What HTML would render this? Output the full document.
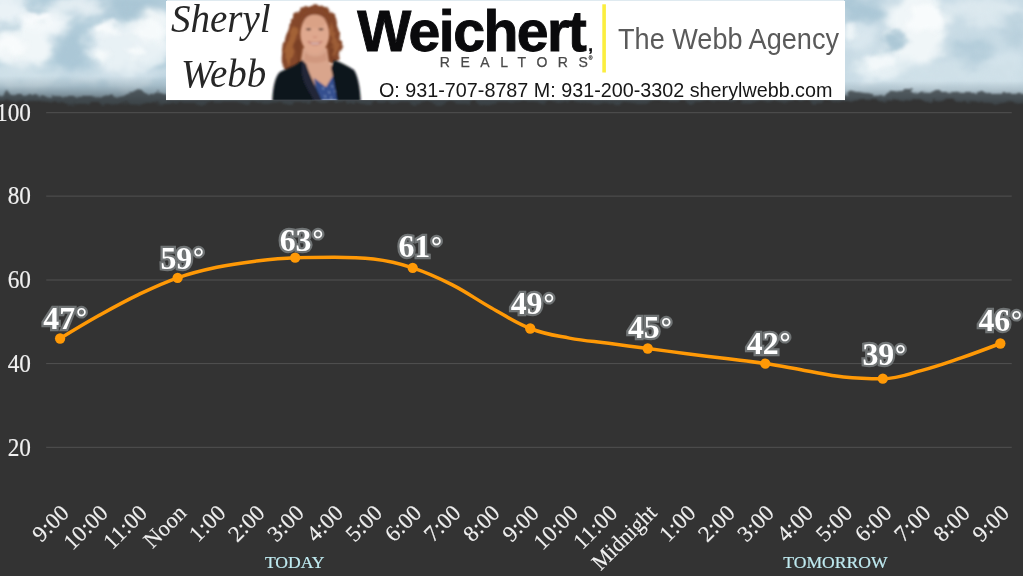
<!DOCTYPE html>
<html lang="en">
<head>
<meta charset="utf-8">
<title>Hourly Temperature Forecast</title>
<style>
html,body{margin:0;padding:0;background:#333333;overflow:hidden;}
body{width:1023px;height:576px;position:relative;font-family:"Liberation Serif",serif;}
svg{display:block;position:absolute;left:0;top:0;}
.ylab{font-family:"Liberation Serif",serif;font-size:23.3px;fill:#f0f0f0;stroke:#f0f0f0;stroke-width:0.15px;}
.xlab{font-family:"Liberation Serif",serif;font-size:22.7px;letter-spacing:0.15px;fill:#f0f0f0;stroke:#f0f0f0;stroke-width:0.15px;}
.day{font-family:"Liberation Serif",serif;font-size:17.6px;fill:#bfeaf0;letter-spacing:0px;stroke:#bfeaf0;stroke-width:0.2px;}
.dl{font-family:"Liberation Serif",serif;font-weight:bold;font-size:30.6px;fill:#ffffff;stroke:#707475;stroke-width:4.4px;letter-spacing:0px;paint-order:stroke fill;stroke-linejoin:miter;stroke-miterlimit:2;}
.deg{font-size:26.5px;}
.wei{font-family:"Liberation Sans",sans-serif;font-weight:bold;font-size:57.2px;fill:#0a0a0c;stroke:#0a0a0c;stroke-width:0.9px;letter-spacing:-1.55px;}
.rea{font-family:"Liberation Sans",sans-serif;font-size:14px;fill:#484848;stroke:#484848;stroke-width:0.25px;letter-spacing:10.55px;}
.reg{font-size:5px;letter-spacing:0;}
.com{font-size:17px;letter-spacing:0;stroke-width:0.3px;}
.agency{font-family:"Liberation Sans",sans-serif;font-size:30px;fill:#5a5a5a;}
.phone{font-family:"Liberation Sans",sans-serif;font-size:19.75px;fill:#161616;}
.script{font-family:"Liberation Serif",serif;font-style:italic;font-size:39px;fill:#262626;}
</style>
</head>
<body>
<svg width="1023" height="576" viewBox="0 0 1023 576">
<rect x="0" y="0" width="1023" height="576" fill="#333333"/>
<defs>
<filter id="cl" x="-30%" y="-60%" width="160%" height="220%" color-interpolation-filters="sRGB">
<feGaussianBlur in="SourceGraphic" stdDeviation="5" result="bl"/>
<feTurbulence type="fractalNoise" baseFrequency="0.035 0.05" numOctaves="3" seed="7" result="n"/>
<feDisplacementMap in="bl" in2="n" scale="22" xChannelSelector="R" yChannelSelector="G" result="d"/>
<feGaussianBlur in="d" stdDeviation="1.2"/>
</filter>
<filter id="cs" x="-30%" y="-60%" width="160%" height="220%" color-interpolation-filters="sRGB">
<feGaussianBlur in="SourceGraphic" stdDeviation="2.5" result="bl"/>
<feTurbulence type="fractalNoise" baseFrequency="0.06 0.08" numOctaves="3" seed="3" result="n"/>
<feDisplacementMap in="bl" in2="n" scale="14" xChannelSelector="R" yChannelSelector="G" result="d"/>
<feGaussianBlur in="d" stdDeviation="0.8"/>
</filter>
<filter id="tr" x="-5%" y="-80%" width="110%" height="260%" color-interpolation-filters="sRGB">
<feTurbulence type="fractalNoise" baseFrequency="0.09 0.12" numOctaves="3" seed="11" result="n"/>
<feDisplacementMap in="SourceGraphic" in2="n" scale="10" xChannelSelector="R" yChannelSelector="G" result="d"/>
<feGaussianBlur in="d" stdDeviation="1"/>
</filter>
<linearGradient id="haze" x1="0" y1="0" x2="0" y2="1">
<stop offset="0" stop-color="#80929c" stop-opacity="0"/>
<stop offset="0.3" stop-color="#7b8d97" stop-opacity="0.3"/>
<stop offset="0.55" stop-color="#64737c" stop-opacity="0.6"/>
<stop offset="0.78" stop-color="#495257" stop-opacity="0.88"/>
<stop offset="1" stop-color="#333333" stop-opacity="1"/>
</linearGradient>
<clipPath id="skyL"><rect x="0" y="0" width="167" height="112"/></clipPath>
<clipPath id="skyR"><rect x="844" y="0" width="179" height="112"/></clipPath>
</defs>
<clipPath id="skyall"><rect x="0" y="0" width="1023" height="112"/></clipPath>
<g id="sky" clip-path="url(#skyall)">
<rect x="0" y="0" width="1023" height="100" fill="#dfeaf0"/>
<g clip-path="url(#skyL)">
<rect x="0" y="0" width="167" height="104" fill="#b1ccda"/>
<g filter="url(#cl)">
<ellipse cx="4" cy="8" rx="26" ry="16" fill="#eaf2f6"/>
<ellipse cx="20" cy="46" rx="34" ry="20" fill="#f0f6f8"/>
<ellipse cx="46" cy="24" rx="26" ry="11" fill="#f3f8fa"/>
<ellipse cx="82" cy="6" rx="30" ry="11" fill="#e3edf2"/>
<ellipse cx="128" cy="46" rx="42" ry="26" fill="#e8f1f5"/>
<ellipse cx="152" cy="26" rx="22" ry="14" fill="#f0f6f8"/>
<ellipse cx="20" cy="76" rx="44" ry="10" fill="#cfe0e8"/>
<ellipse cx="118" cy="78" rx="60" ry="9" fill="#cddee7"/>
<ellipse cx="130" cy="8" rx="28" ry="9" fill="#a9c5d4"/>
<ellipse cx="72" cy="52" rx="15" ry="22" fill="#abc7d6"/>
</g>
<g filter="url(#cs)">
<ellipse cx="106" cy="30" rx="12" ry="6" fill="#f8fbfc"/>
<ellipse cx="150" cy="30" rx="13" ry="10" fill="#f6fafb"/>
<ellipse cx="100" cy="55" rx="9" ry="5" fill="#f6fafb"/>
<ellipse cx="134" cy="52" rx="9" ry="6" fill="#f6fafb"/>
<ellipse cx="38" cy="19" rx="16" ry="5" fill="#fafcfd"/>
<ellipse cx="12" cy="46" rx="16" ry="8" fill="#f8fbfc"/>
<ellipse cx="34" cy="10" rx="9" ry="4" fill="#b9d0dc"/>
<ellipse cx="10" cy="28" rx="11" ry="4" fill="#c4d8e2"/>
</g>
</g>
<g clip-path="url(#skyR)">
<rect x="844" y="0" width="179" height="104" fill="#c8dbe5"/>
<g filter="url(#cl)">
<ellipse cx="862" cy="10" rx="22" ry="13" fill="#abc7d6"/>
<ellipse cx="916" cy="28" rx="30" ry="38" fill="#f0f6f8"/>
<ellipse cx="886" cy="68" rx="32" ry="14" fill="#e6f0f4"/>
<ellipse cx="858" cy="38" rx="16" ry="12" fill="#d9e7ee"/>
<ellipse cx="980" cy="10" rx="44" ry="12" fill="#dbe8ee"/>
<ellipse cx="972" cy="52" rx="18" ry="11" fill="#b4cdda"/>
<ellipse cx="1005" cy="62" rx="18" ry="10" fill="#d3e3eb"/>
<ellipse cx="1016" cy="32" rx="12" ry="12" fill="#b9d0dc"/>
<ellipse cx="960" cy="76" rx="70" ry="12" fill="#cfe0e8"/>
</g>
<g filter="url(#cs)">
<ellipse cx="894" cy="41" rx="11" ry="10" fill="#adc8d6"/>
<ellipse cx="926" cy="18" rx="18" ry="15" fill="#f8fbfc"/>
<ellipse cx="850" cy="32" rx="6" ry="10" fill="#edf4f7"/>
<ellipse cx="880" cy="62" rx="14" ry="7" fill="#f3f8fa"/>
</g>
</g>
<rect x="0" y="76" width="600" height="32" fill="url(#haze)"/>
<rect x="600" y="81" width="423" height="27" fill="url(#haze)"/>
<rect x="0" y="107.5" width="1023" height="6" fill="#333333"/>
<g filter="url(#tr)" opacity="0.8">
<path fill="#3b4246" d="M-10 125 L-10 95 L10 93 L30 95 L50 96 L70 97 L90 97 L108 96 L122 95 L131 93 L137 91 L143 92 L149 95 L155 93 L161 95 L170 96 L400 96 L700 96 L845 93 L858 92 L872 94 L888 93 L900 91 L912 91 L928 92 L946 92 L962 93 L982 93 L1002 94 L1035 94 L1035 125 Z"/>
</g>
<g filter="url(#tr)">
<path fill="#333333" d="M-10 125 L-10 102 L20 101 L50 103 L80 104 L110 104 L130 103 L150 102 L170 103 L500 103 L845 101 L870 100 L900 101 L930 100 L960 101 L990 102 L1035 103 L1035 125 Z"/>
</g>
</g>
<defs><filter id="hairf" x="-20%" y="-10%" width="140%" height="120%" color-interpolation-filters="sRGB"><feTurbulence type="fractalNoise" baseFrequency="0.16 0.12" numOctaves="2" seed="5" result="n"/><feDisplacementMap in="SourceGraphic" in2="n" scale="6" xChannelSelector="R" yChannelSelector="G" result="d"/><feGaussianBlur in="d" stdDeviation="0.8"/></filter><filter id="b1p" x="-10%" y="-10%" width="120%" height="120%"><feGaussianBlur stdDeviation="0.9"/></filter><clipPath id="bclip"><rect x="166" y="0.7" width="679" height="99.6"/></clipPath></defs>
<g id="banner" clip-path="url(#bclip)">
<rect x="166" y="1" width="679" height="99.3" fill="#ffffff"/>
<text class="script" x="171" y="32">Sheryl</text>
<text class="script" x="181" y="87">Webb</text>
<!--PHOTO-START-->
<g id="photo">
<g filter="url(#hairf)">
<path fill="#84472a" d="M314 4.5 C326 4 334 11 336.5 23 C338 31 342 40 341.5 49 C341 56 337 61 333 63 L322 65 L302 67 C298 71 292 73 287 72 C282.5 67 280.5 60 282.5 52 C283.5 44 286 36 289 27 C291 14 300 5 314 4.5 Z"/>
<path fill="#b8753f" opacity="0.6" d="M293 26 C290 34 288 40 286 48 C285 54 285 60 287 66 C290 64 292 58 293 52 C294 44 296 36 299 28 Z"/>
<path fill="#b27040" opacity="0.55" d="M331 22 C335 30 338 40 338.5 50 C337 56 334 58 332 54 C332 46 331 38 329 30 Z"/>
<path fill="#6f3a20" opacity="0.5" d="M297 40 C295 48 295 56 297 64 L301 62 C300 54 300 46 301 40 Z M329 44 C330 50 330 56 329 60 L333 60 C334 54 333 48 332 44 Z"/>
</g>
<g filter="url(#b1p)">
<path fill="#d9a58c" d="M303 48 L327 48 L329 62 L336 68 L336 100 L306 100 L300 66 Z"/>
<path fill="#c98f76" opacity="0.6" d="M305 52 C310 58 320 58 326 52 L327 60 C320 64 310 64 304 60 Z"/>
<ellipse cx="314.8" cy="34" rx="14.4" ry="19.8" fill="#dfa88e"/>
<ellipse cx="314.8" cy="21" rx="11" ry="7" fill="#d69d80" opacity="0.55"/>
<path fill="#84472a" d="M300.5 25 C301 14 308 8.5 315 8.5 C323 8.5 329 15 330 25 C327 18.5 321 14.5 314.5 14.5 C308 14.5 304 18.5 300.5 25 Z"/>
<ellipse cx="308.6" cy="29.3" rx="2.7" ry="1.1" fill="#5f4036"/>
<ellipse cx="321" cy="29.3" rx="2.7" ry="1.1" fill="#5f4036"/>
<path fill="#c47a6c" opacity="0.7" d="M313 35 C314 37.5 316 37.5 317 35 L316.4 38 L313.6 38 Z"/>
<path fill="#f5ebe4" stroke="#b4645a" stroke-width="0.9" d="M308 41.3 C312 43.3 318 43.3 322 41.3 C319 46 311 46 308 41.3 Z"/>
<path fill="#34508f" d="M314 78 L326 87 L334 74 L340 100 L318 100 Z"/>
<path fill="#a9bde0" opacity="0.65" d="M322 87 l2.2 1 l-1 2.2 z M328 91 l2.2 1 l-1 2.2 z M324 95 l2.2 1 l-1 2.2 z M331 85 l2.2 1 l-1 2.2 z M330 96.5 l2.2 1 l-1 2.2 z M334 90 l2 1 l-1 2 z"/>
<path fill="#11141d" d="M272.3 101 C272.8 88 275 76 280 72 C288 68 296 66 302 60 L306 64 C309 74 315 85 322 101 Z"/>
<path fill="#11141d" d="M337 101 C335.5 90 333.5 78 331 68 L334 60 C340 62 348 66 354 70 C358 76 360.2 88 360.8 101 Z"/>
<path fill="#222737" d="M302 60 C300.5 70 302 80 308 90 L314 101 L322 101 C315 86 309 74 306 64 Z"/>
</g>
</g>
<!--PHOTO-END-->
<text class="wei" x="357.2" y="51">Weichert<tspan class="com" dx="3">,</tspan></text>
<text class="rea" x="439.8" y="66.6">REALTOR<tspan letter-spacing="1">S</tspan><tspan class="reg" dy="-6.5">®</tspan></text>
<rect x="602.3" y="4.3" width="3.6" height="68.2" fill="#fbee3e"/>
<text class="agency" x="618" y="48.8" textLength="221" lengthAdjust="spacingAndGlyphs">The Webb Agency</text>
<text class="phone" x="379" y="97">O: 931-707-8787 M: 931-200-3302 sherylwebb.com</text>
</g>
<g fill="#525252">
<rect x="46.2" y="112.2" width="965.5" height="1"/>
<rect x="46.2" y="195.6" width="965.5" height="1"/>
<rect x="46.2" y="279.5" width="965.5" height="1"/>
<rect x="46.2" y="363.1" width="965.5" height="1"/>
<rect x="46.2" y="446.8" width="965.5" height="1"/>
</g>
<g class="ylab" text-anchor="end">
<text transform="translate(31,120.9) scale(1,1.07)">100</text>
<text transform="translate(31,204.3) scale(1,1.07)">80</text>
<text transform="translate(31,288.2) scale(1,1.07)">60</text>
<text transform="translate(31,371.8) scale(1,1.07)">40</text>
<text transform="translate(31,455.5) scale(1,1.07)">20</text>
</g>
<g class="xlab" text-anchor="end">
<text transform="translate(70.3,514) rotate(-45)">9:00</text>
<text transform="translate(109.48,514) rotate(-45)">10:00</text>
<text transform="translate(148.65,514) rotate(-45)">11:00</text>
<text transform="translate(187.83,514) rotate(-45) scale(0.98,1)">Noon</text>
<text transform="translate(227.01,514) rotate(-45)">1:00</text>
<text transform="translate(266.18,514) rotate(-45)">2:00</text>
<text transform="translate(305.36,514) rotate(-45)">3:00</text>
<text transform="translate(344.54,514) rotate(-45)">4:00</text>
<text transform="translate(383.71,514) rotate(-45)">5:00</text>
<text transform="translate(422.89,514) rotate(-45)">6:00</text>
<text transform="translate(462.07,514) rotate(-45)">7:00</text>
<text transform="translate(501.24,514) rotate(-45)">8:00</text>
<text transform="translate(540.42,514) rotate(-45)">9:00</text>
<text transform="translate(579.6,514) rotate(-45)">10:00</text>
<text transform="translate(618.77,514) rotate(-45)">11:00</text>
<text transform="translate(657.95,514) rotate(-45) scale(0.945,1)">Midnight</text>
<text transform="translate(697.13,514) rotate(-45)">1:00</text>
<text transform="translate(736.3,514) rotate(-45)">2:00</text>
<text transform="translate(775.48,514) rotate(-45)">3:00</text>
<text transform="translate(814.66,514) rotate(-45)">4:00</text>
<text transform="translate(853.83,514) rotate(-45)">5:00</text>
<text transform="translate(893.01,514) rotate(-45)">6:00</text>
<text transform="translate(932.19,514) rotate(-45)">7:00</text>
<text transform="translate(971.36,514) rotate(-45)">8:00</text>
<text transform="translate(1010.54,514) rotate(-45)">9:00</text>
</g>
<text class="day" x="294.7" y="568.4" text-anchor="middle">TODAY</text>
<text class="day" x="835.4" y="568.4" text-anchor="middle">TOMORROW</text>
<path d="M 60.1 338.5 C 60.1 338.5 83.61 324.12 99.28 315.34 C 114.95 306.56 122.78 302.13 138.45 294.62 C 154.12 287.11 161.96 283.26 177.63 277.8 C 193.3 272.34 201.14 270.64 216.81 267.3 C 232.48 263.96 240.31 263.02 255.98 261.1 C 271.65 259.18 279.49 258.2 295.16 257.7 C 310.83 257.2 318.67 257.2 334.34 257.2 C 350.01 257.2 357.84 257.2 373.51 259 C 389.18 260.8 397.02 262.68 412.69 267.8 C 428.36 272.92 436.2 276.62 451.87 284.6 C 467.54 292.58 475.37 298.92 491.04 307.7 C 506.71 316.48 514.55 322.42 530.22 328.5 C 545.89 334.58 553.73 335.14 569.4 338.1 C 585.07 341.06 592.9 341.22 608.57 343.3 C 624.24 345.38 632.08 346.42 647.75 348.5 C 663.42 350.58 671.26 351.68 686.93 353.7 C 702.6 355.72 710.43 356.62 726.1 358.6 C 741.77 360.58 749.61 361.24 765.28 363.6 C 780.95 365.96 788.79 367.74 804.46 370.4 C 820.13 373.06 827.96 375.25 843.63 376.9 C 859.3 378.55 867.14 378.65 882.81 378.65 C 898.48 378.65 906.32 374.55 921.99 370.4 C 937.66 366.25 945.49 363.28 961.16 357.9 C 976.83 352.52 1000.34 343.5 1000.34 343.5" fill="none" stroke="#ff9906" stroke-width="3.5" stroke-linecap="round" stroke-linejoin="round"/>
<g fill="#ff9906">
<circle cx="60.1" cy="338.5" r="5.15"/>
<circle cx="177.63" cy="277.8" r="5.15"/>
<circle cx="295.16" cy="257.7" r="5.15"/>
<circle cx="412.69" cy="267.8" r="5.15"/>
<circle cx="530.22" cy="328.5" r="5.15"/>
<circle cx="647.75" cy="348.5" r="5.15"/>
<circle cx="765.28" cy="363.6" r="5.15"/>
<circle cx="882.81" cy="378.65" r="5.15"/>
<circle cx="1000.34" cy="343.5" r="5.15"/>
</g>
<g class="dl" text-anchor="middle">
<text transform="translate(65.15,328.8) scale(1.04,1)">47<tspan class="deg" dx="0.9" dy="-2.4">°</tspan></text>
<text transform="translate(182.25,268.56) scale(1.04,1)">59<tspan class="deg" dx="0.9" dy="-2.4">°</tspan></text>
<text transform="translate(301.55,250.5) scale(1.04,1)">63<tspan class="deg" dx="0.9" dy="-2.4">°</tspan></text>
<text transform="translate(420.25,257.3) scale(1.04,1)">61<tspan class="deg" dx="0.9" dy="-2.4">°</tspan></text>
<text transform="translate(532.55,314) scale(1.04,1)">49<tspan class="deg" dx="0.9" dy="-2.4">°</tspan></text>
<text transform="translate(649.8,338.4) scale(1.04,1)">45<tspan class="deg" dx="0.9" dy="-2.4">°</tspan></text>
<text transform="translate(768.65,353.7) scale(1.04,1)">42<tspan class="deg" dx="0.9" dy="-2.4">°</tspan></text>
<text transform="translate(884.25,365.3) scale(1.04,1)">39<tspan class="deg" dx="0.9" dy="-2.4">°</tspan></text>
<text transform="translate(1000.25,331.2) scale(1.04,1)">46<tspan class="deg" dx="0.9" dy="-2.4">°</tspan></text>
</g>
</svg>
</body>
</html>
